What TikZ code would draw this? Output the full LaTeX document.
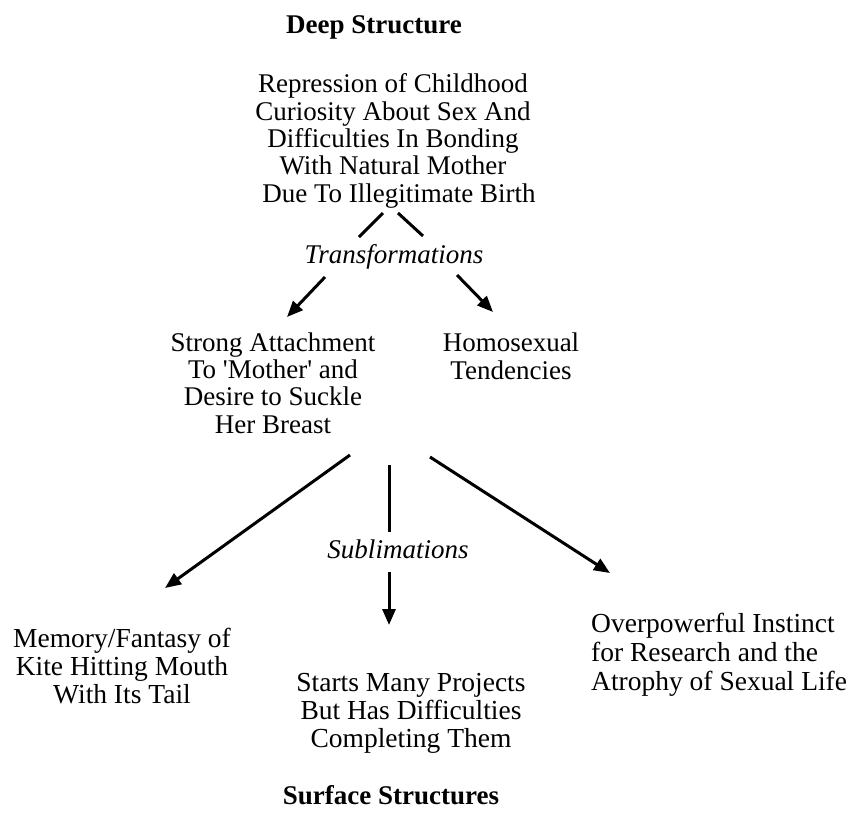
\documentclass[tikz,border=0pt]{standalone}
\usepackage{fontspec}
\setmainfont{Liberation Serif}
\usetikzlibrary{arrows.meta}
\begin{document}
\begin{tikzpicture}[x=1pt,y=-1pt,
  txt/.style={font=\fontsize{27}{27.3}\selectfont, align=center, inner sep=0pt, anchor=base},
  low/.style={font=\fontsize{27.5}{28}\selectfont, align=center, inner sep=0pt, anchor=base},
  ttl/.style={font=\fontsize{27}{27.5}\selectfont\bfseries, inner sep=0pt, anchor=base},
  lbl/.style={font=\fontsize{27}{27.5}\selectfont\itshape, inner sep=0pt, anchor=base},
  link/.style={line width=3pt},
  arr/.style={link, -{Triangle[length=16pt,width=13pt]}}]
\fill[white] (0,0) rectangle (854,815);
\useasboundingbox (0,0) rectangle (854,815);

% headings
\node[ttl] (deep) at (374,33) {Deep Structure};
\node[ttl] (surface) at (391,804) {Surface Structures};

% deep structure (base anchor = last line)
\node[txt] (root) at (393,202) {Repression of Childhood\\Curiosity About Sex And\\Difficulties In Bonding\\With Natural Mother\\\hspace*{12pt}Due To Illegitimate Birth};

% transformations
\node[lbl] (trans) at (394,263) {Transformations};
\node[txt] (attach) at (273,433) {Strong Attachment\\To \textquotesingle Mother\textquotesingle{} and\\Desire to Suckle\\Her Breast};
\node[txt] (homo) at (511,379) {Homosexual\\Tendencies};

% sublimations
\node[lbl] (sublim) at (398,558) {Sublimations};
\node[low] (kite) at (122,703) {Memory/Fantasy of\\Kite Hitting Mouth\\With Its Tail};
\node[low] (projects) at (411,747) {Starts Many Projects\\But Has Difficulties\\Completing Them};
\node[low, font=\fontsize{27.5}{29}\selectfont, align=left, anchor=base west] (research) at (591,690) {Overpowerful Instinct\\for Research and the\\Atrophy of Sexual Life};

% connector end points
\coordinate (rL) at (383,213);  \coordinate (tL) at (359,237);
\coordinate (rR) at (398,213);  \coordinate (tR) at (423,236);
\coordinate (aL) at (325,277);  \coordinate (hL) at (287,317);
\coordinate (aR) at (457,275);  \coordinate (hR) at (493,312);
\coordinate (sL) at (350,455);  \coordinate (eL) at (165,588);
\coordinate (sM) at (389,465);  \coordinate (mM) at (389,532);
\coordinate (nM) at (389,572);  \coordinate (eM) at (389,625);
\coordinate (sR) at (430,457);  \coordinate (eR) at (610,573);

\draw[link] (rL) -- (tL);
\draw[link] (rR) -- (tR);
\draw[arr] (aL) -- (hL);
\draw[arr] (aR) -- (hR);
\draw[arr] (sL) -- (eL);
\draw[link] (sM) -- (mM);
\draw[arr] (nM) -- (eM);
\draw[arr] (sR) -- (eR);
\end{tikzpicture}
\end{document}
